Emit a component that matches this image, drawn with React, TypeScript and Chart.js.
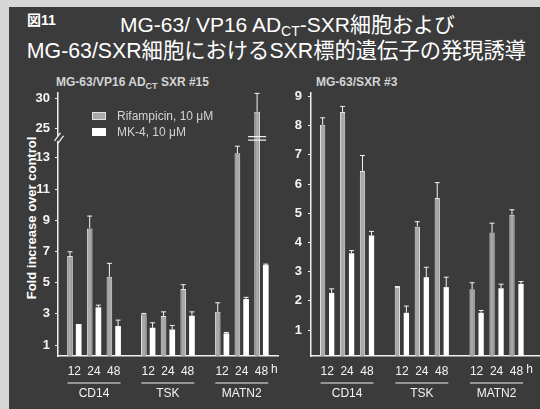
import React, { useEffect, useRef } from 'react';
import { Chart, registerables, LinearScale } from 'chart.js';

// ---------------- data ----------------
const timePoints = ['12', '24', '48'];
const genes = ['CD14', 'TSK', 'MATN2'];
const seriesNames = ['Rifampicin, 10 μM', 'MK-4, 10 μM'];

// Left panel: MG-63/VP16 AD_CT-SXR #15 (order: CD14 12/24/48, TSK 12/24/48, MATN2 12/24/48)
const leftRif = [6.71, 8.48, 5.38, 2.97, 2.86, 4.59, 3.13, 13.29, 27.77];
const leftRifErr = [0.27, 0.79, 0.86, 0.06, 0.27, 0.28, 0.58, 0.46, 3.06];
const leftMk4 = [2.35, 3.42, 2.22, 2.11, 2.0, 2.88, 1.75, 3.95, 6.13];
const leftMk4Err = [0.0, 0.14, 0.38, 0.32, 0.26, 0.25, 0.06, 0.11, 0.06];
const leftTicks = [1, 3, 5, 7, 9, 11, 13, 25, 30];

// Right panel: MG-63/SXR #3
const rightRif = [8.03, 8.47, 6.45, 2.47, 4.54, 5.52, 2.4, 4.34, 4.95];
const rightRifErr = [0.24, 0.19, 0.53, 0.02, 0.17, 0.53, 0.22, 0.32, 0.17];
const rightMk4 = [2.27, 3.63, 4.24, 1.59, 2.81, 2.47, 1.59, 2.43, 2.58];
const rightMk4Err = [0.14, 0.09, 0.14, 0.23, 0.34, 0.34, 0.08, 0.14, 0.08];
const rightTicks = [1, 2, 3, 4, 5, 6, 7, 8, 9];

// ---------------- broken axis (left panel) ----------------
const lowerTop = 14; // linear part of the axis
const upperRef = 25; // value of the upper segment anchored at upperRefPos
const upperRefPos = 14.89;
const upperSlope = 0.385;
const squash = (v: number) => (v <= lowerTop ? v : upperRefPos + (v - upperRef) * upperSlope);
const unsquash = (t: number) => (t <= lowerTop ? t : upperRef + (t - upperRefPos) / upperSlope);

class BrokenLinearScale extends (LinearScale as any) {
  static id = 'brokenLinear';
  getPixelForValue(value: number) {
    return super.getPixelForValue(value == null ? value : squash(value));
  }
  getValueForPixel(pixel: number) {
    return unsquash(super.getValueForPixel(pixel));
  }
}

Chart.register(...registerables, BrokenLinearScale as any);

// ---------------- styles ----------------
const FONT = '"Liberation Sans", Arial, "Noto Sans CJK JP", sans-serif';
const BG = '#3b3b3b';
const AXIS = '#f0f0f0';
const TEXT = '#f4f4f4';
const GRAY = '#a9a9a9';
const GRAY_EDGE = '#e2e2e2';
const groupStep = 3.75;
const xPos = genes.flatMap((_, g) => timePoints.map((__, t) => g * groupStep + t));

const errorBarPlugin = {
  id: 'errorBars',
  afterDatasetsDraw(chart: any) {
    const ctx = chart.ctx;
    const yScale = chart.scales.y;
    chart.data.datasets.forEach((ds: any, i: number) => {
      const meta = chart.getDatasetMeta(i);
      meta.data.forEach((bar: any, j: number) => {
        const err = ds.errors[j];
        if (!err) return;
        const top = yScale.getPixelForValue(ds.data[j].y + err);
        ctx.save();
        ctx.strokeStyle = '#f4f4f4';
        ctx.lineWidth = 1;
        ctx.beginPath();
        ctx.moveTo(bar.x, bar.y);
        ctx.lineTo(bar.x, top);
        ctx.moveTo(bar.x - 2.5, top);
        ctx.lineTo(bar.x + 2.5, top);
        ctx.stroke();
        ctx.restore();
      });
    });
  },
};

function makeDecorPlugin(withBreak: boolean) {
  return {
    id: 'decor',
    afterDraw(chart: any) {
      const ctx = chart.ctx;
      const xs = chart.scales.x;
      const ys = chart.scales.y;
      ctx.save();
      ctx.strokeStyle = AXIS;
      ctx.fillStyle = TEXT;
      ctx.lineWidth = 1;
      ctx.font = `12px ${FONT}`;
      ctx.textAlign = 'center';
      ctx.textBaseline = 'middle';
      genes.forEach((g, gi) => {
        const mid = xs.getPixelForValue(gi * groupStep + 1);
        ctx.beginPath();
        ctx.moveTo(mid - 26.5, 383);
        ctx.lineTo(mid + 26.5, 383);
        ctx.stroke();
        ctx.fillText(g, mid, 394);
      });
      const lastX = xs.getPixelForValue(xPos[xPos.length - 1]);
      ctx.fillText('h', lastX + 13, 370);

      if (withBreak) {
        const yb = (ys.getPixelForValue(lowerTop) + ys.getPixelForValue(24)) / 2;
        const ax = chart.chartArea.left;
        ctx.fillStyle = BG;
        ctx.fillRect(ax - 2, yb - 2.5, 4, 5);
        ctx.strokeStyle = AXIS;
        ctx.lineWidth = 1.3;
        ctx.beginPath();
        ctx.moveTo(ax - 3.5, yb + 2.5);
        ctx.lineTo(ax + 2.5, yb - 5.5);
        ctx.moveTo(ax - 0.5, yb + 5.5);
        ctx.lineTo(ax + 5.5, yb - 2.5);
        ctx.stroke();
        // break on the tall bar
        const meta = chart.getDatasetMeta(0);
        const bar = meta.data[meta.data.length - 1];
        ctx.lineWidth = 1.3;
        ctx.beginPath();
        ctx.moveTo(bar.x - 9, yb - 1.8);
        ctx.lineTo(bar.x + 9, yb - 1.8);
        ctx.moveTo(bar.x - 9, yb + 1.8);
        ctx.lineTo(bar.x + 9, yb + 1.8);
        ctx.stroke();
      }
      ctx.restore();
    },
  };
}

interface Panel {
  rif: number[];
  rifErr: number[];
  mk: number[];
  mkErr: number[];
  yTicks: number[];
  yType: string;
  yMin: number;
  yMax: number;
  xMin: number;
  xMax: number;
  yWidth: number;
  padRight: number;
  tickPad: number;
  cp: number;
  bp: number;
  withBreak: boolean;
}

function makeConfig(p: Panel): any {
  return {
    type: 'bar',
    data: {
      datasets: [
        {
          label: seriesNames[0],
          data: p.rif.map((v, i) => ({ x: xPos[i], y: v })),
          errors: p.rifErr,
          backgroundColor: GRAY,
          borderColor: GRAY_EDGE,
          borderWidth: 1,
          base: p.yMin,
          categoryPercentage: p.cp,
          barPercentage: p.bp,
        },
        {
          label: seriesNames[1],
          data: p.mk.map((v, i) => ({ x: xPos[i], y: v })),
          errors: p.mkErr,
          backgroundColor: '#ffffff',
          borderWidth: 0,
          base: p.yMin,
          categoryPercentage: p.cp,
          barPercentage: p.bp,
        },
      ],
    },
    options: {
      responsive: false,
      animation: false,
      events: [],
      layout: { padding: { left: 0, right: p.padRight, top: 93, bottom: 13 } },
      plugins: { legend: { display: false }, tooltip: { enabled: false }, title: { display: false } },
      scales: {
        x: {
          type: 'linear',
          min: p.xMin,
          max: p.xMax,
          offset: false,
          bounds: 'data',
          grid: { display: false, drawTicks: false },
          border: { display: true, color: AXIS, width: 1.5 },
          ticks: {
            autoSkip: false,
            maxRotation: 0,
            padding: 8,
            color: TEXT,
            font: { family: FONT, size: 12 },
            callback: (_v: any, i: number) => timePoints[i % 3],
          },
          afterBuildTicks: (s: any) => {
            s.ticks = xPos.map((v) => ({ value: v }));
          },
          afterFit: (s: any) => {
            s.height = 40;
          },
        },
        y: {
          type: p.yType,
          min: p.yMin,
          max: p.yMax,
          bounds: 'data',
          grid: { display: true, drawOnChartArea: false, drawTicks: true, tickLength: 3, color: AXIS, lineWidth: 1 },
          border: { display: true, color: AXIS, width: 1.5 },
          ticks: {
            padding: p.tickPad,
            color: TEXT,
            font: { family: FONT, size: 13, weight: 'bold' },
            callback: (v: any) => String(v),
          },
          afterBuildTicks: (s: any) => {
            s.ticks = p.yTicks.map((v) => ({ value: v }));
          },
          afterFit: (s: any) => {
            s.width = p.yWidth;
          },
        },
      },
    },
    plugins: [errorBarPlugin, makeDecorPlugin(p.withBreak)],
  };
}

export default function App() {
  const leftRef = useRef<HTMLCanvasElement>(null);
  const rightRef = useRef<HTMLCanvasElement>(null);

  useEffect(() => {
    const left = new Chart(
      leftRef.current as HTMLCanvasElement,
      makeConfig({
        rif: leftRif,
        rifErr: leftRifErr,
        mk: leftMk4,
        mkErr: leftMk4Err,
        yTicks: leftTicks,
        yType: 'brokenLinear',
        yMin: 0.3,
        yMax: 17.16,
        xMin: -0.83,
        xMax: 10.34,
        yWidth: 58,
        padRight: 7,
        tickPad: 5,
        cp: 0.883,
        bp: 0.655,
        withBreak: true,
      })
    );
    const right = new Chart(
      rightRef.current as HTMLCanvasElement,
      makeConfig({
        rif: rightRif,
        rifErr: rightRifErr,
        mk: rightMk4,
        mkErr: rightMk4Err,
        yTicks: rightTicks,
        yType: 'linear',
        yMin: 0.11,
        yMax: 9.12,
        xMin: -0.81,
        xMax: 10.68,
        yWidth: 26,
        padRight: 0,
        tickPad: 6,
        cp: 0.903,
        bp: 0.59,
        withBreak: false,
      })
    );
    return () => {
      left.destroy();
      right.destroy();
    };
  }, []);

  const abs: React.CSSProperties = { position: 'absolute', whiteSpace: 'nowrap', fontFamily: FONT };

  return (
    <div style={{ position: 'fixed', left: 0, top: 0, width: 540, height: 409, background: '#d6d6d6', overflow: 'hidden' }}>
      <div style={{ position: 'absolute', left: 9, top: 7, right: 0, bottom: 0, background: BG }} />
      <div style={{ ...abs, left: 27, top: 9, fontSize: 14, fontWeight: 'bold', color: '#fff' }}>図11</div>
      <div style={{ ...abs, left: 287.5, top: 13, transform: 'translateX(-50%)', fontSize: 21, lineHeight: '24px', color: '#fff' }}>
        MG-63/ VP16 AD<sub style={{ fontSize: 14, verticalAlign: -4, lineHeight: 0 }}>CT</sub>-SXR細胞および
      </div>
      <div style={{ ...abs, left: 276.5, top: 39, transform: 'translateX(-50%)', fontSize: 21.3, lineHeight: '24px', color: '#fff' }}>
        MG-63/SXR細胞におけるSXR標的遺伝子の発現誘導
      </div>
      <div style={{ ...abs, left: 56, top: 76, fontSize: 12, lineHeight: '13px', fontWeight: 'bold', color: '#d4d4d4' }}>
        MG-63/VP16 AD<sub style={{ fontSize: 9, verticalAlign: -3, lineHeight: 0 }}>CT</sub> SXR #15
      </div>
      <div style={{ ...abs, left: 316, top: 76, fontSize: 12, lineHeight: '13px', fontWeight: 'bold', color: '#d4d4d4' }}>
        MG-63/SXR #3
      </div>
      <div
        style={{
          ...abs,
          left: 31,
          top: 218,
          transform: 'translate(-50%, -50%) rotate(-90deg)',
          fontSize: 13,
          lineHeight: '13px',
          fontWeight: 'bold',
          color: '#fff',
        }}
      >
        Fold increase over control
      </div>
      <canvas ref={leftRef} width={285} height={409} style={{ position: 'absolute', left: 0, top: 0 }} />
      <canvas ref={rightRef} width={255} height={409} style={{ position: 'absolute', left: 285, top: 0 }} />
      <div style={{ position: 'absolute', left: 92, top: 112, width: 14, height: 8, background: GRAY, boxSizing: 'border-box', border: `1px solid ${GRAY_EDGE}` }} />
      <div style={{ position: 'absolute', left: 92, top: 128, width: 14, height: 8, background: '#fff' }} />
      <div style={{ ...abs, left: 117, top: 109, fontSize: 12, lineHeight: '14px', color: '#d4d4d4' }}>{seriesNames[0]}</div>
      <div style={{ ...abs, left: 117, top: 125, fontSize: 12, lineHeight: '14px', color: '#d4d4d4' }}>{seriesNames[1]}</div>
    </div>
  );
}
